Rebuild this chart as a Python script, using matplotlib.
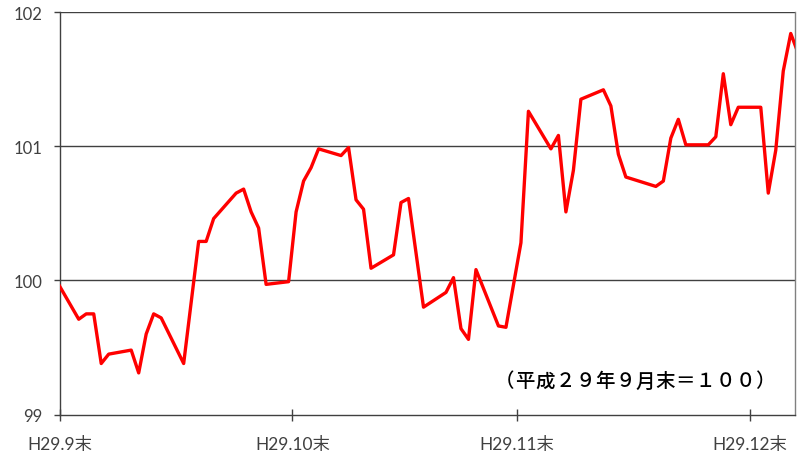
import matplotlib
matplotlib.use("Agg")
import matplotlib.pyplot as plt
from matplotlib.transforms import offset_copy
import pandas as pd

# index values, base = end of Sep 2017 (H29.9末) = 100
dates = ["2017-09-29",
         "2017-10-02", "2017-10-03", "2017-10-04", "2017-10-05", "2017-10-06",
         "2017-10-09", "2017-10-10", "2017-10-11", "2017-10-12", "2017-10-13",
         "2017-10-16", "2017-10-18", "2017-10-19", "2017-10-20",
         "2017-10-23", "2017-10-24", "2017-10-25", "2017-10-26", "2017-10-27",
         "2017-10-30", "2017-10-31", "2017-11-01", "2017-11-02", "2017-11-03",
         "2017-11-06", "2017-11-07", "2017-11-08", "2017-11-09", "2017-11-10",
         "2017-11-13", "2017-11-14", "2017-11-15", "2017-11-17",
         "2017-11-20", "2017-11-21", "2017-11-22", "2017-11-23", "2017-11-24",
         "2017-11-27", "2017-11-28", "2017-11-30", "2017-12-01",
         "2017-12-04", "2017-12-05", "2017-12-06", "2017-12-07", "2017-12-08",
         "2017-12-11", "2017-12-12", "2017-12-13", "2017-12-14",
         "2017-12-18", "2017-12-19", "2017-12-20", "2017-12-21", "2017-12-22",
         "2017-12-25", "2017-12-26", "2017-12-27", "2017-12-28", "2017-12-29",
         "2018-01-01", "2018-01-02", "2018-01-03", "2018-01-04", "2018-01-05",
         "2018-01-08"]
values = [100.00,
          99.71, 99.75, 99.75, 99.38, 99.45,
          99.48, 99.31, 99.60, 99.75, 99.72,
          99.38, 100.29, 100.29, 100.46,
          100.65, 100.68, 100.51, 100.39, 99.97,
          99.99, 100.51, 100.74, 100.84, 100.98,
          100.93, 100.99, 100.60, 100.53, 100.09,
          100.19, 100.58, 100.61, 99.80,
          99.91, 100.02, 99.64, 99.56, 100.08,
          99.66, 99.65, 100.28, 101.26,
          100.98, 101.08, 100.51, 100.82, 101.35,
          101.42, 101.30, 100.94, 100.77,
          100.70, 100.74, 101.06, 101.20, 101.01,
          101.01, 101.07, 101.54, 101.16, 101.29,
          101.29, 100.65, 100.97, 101.56, 101.84,
          101.39]

tick_dates = ["2017-09-30", "2017-10-31", "2017-11-30", "2017-12-31"]
tick_labels = ["H29.9末", "H29.10末", "H29.11末", "H29.12末"]
y_ticks = [99, 100, 101, 102]
note = "（平成２９年９月末＝１００）"

x = pd.to_datetime(dates) + pd.Timedelta(hours=12)

fig = plt.figure(figsize=(8.01, 4.56), dpi=100)
ax = fig.add_axes([60 / 801, 40.5 / 456, 734.5 / 801, 402.5 / 456])

for y in y_ticks[1:]:
    ax.axhline(y, color="#404040", lw=1.0, zorder=1)

ax.plot(x, values, color="#ff0000", lw=2.4, zorder=3)

ax.set_xlim(pd.Timestamp("2017-09-30"), pd.Timestamp("2018-01-06"))
ax.set_ylim(99, 102)
ax.set_yticks(y_ticks)
ax.set_yticklabels([str(v) for v in y_ticks], fontsize=12, color="#404040",
                   family=["Lato", "DejaVu Sans"])
ax.set_xticks(pd.to_datetime(tick_dates))
ax.set_xticklabels(tick_labels, fontsize=12.5, color="#404040",
                   family=["Lato", "Noto Sans CJK JP"])

ax.tick_params(axis="y", direction="out", length=4.5, width=1, color="#404040", pad=8)
ax.tick_params(axis="x", direction="inout", length=9, width=1, color="#404040", pad=11)

for side in ["left", "bottom"]:
    ax.spines[side].set_color("#404040")
    ax.spines[side].set_linewidth(1.0)
ax.spines["top"].set_visible(False)
ax.spines["right"].set_color("#808080")
ax.spines["right"].set_linewidth(1.0)

# note drawn one character at a time, 20 px pitch like the original
start = 505
for i, ch in enumerate(note):
    tr = offset_copy(fig.transFigure, fig=fig, x=start + 20 * i, y=456 - 382, units="dots")
    fig.text(0, 0, ch, transform=tr, ha="center", va="center", fontsize=14,
             weight="medium", color="#000000",
             family=["Noto Sans CJK JP", "DejaVu Sans"])

fig.savefig("out.png", dpi=100)
